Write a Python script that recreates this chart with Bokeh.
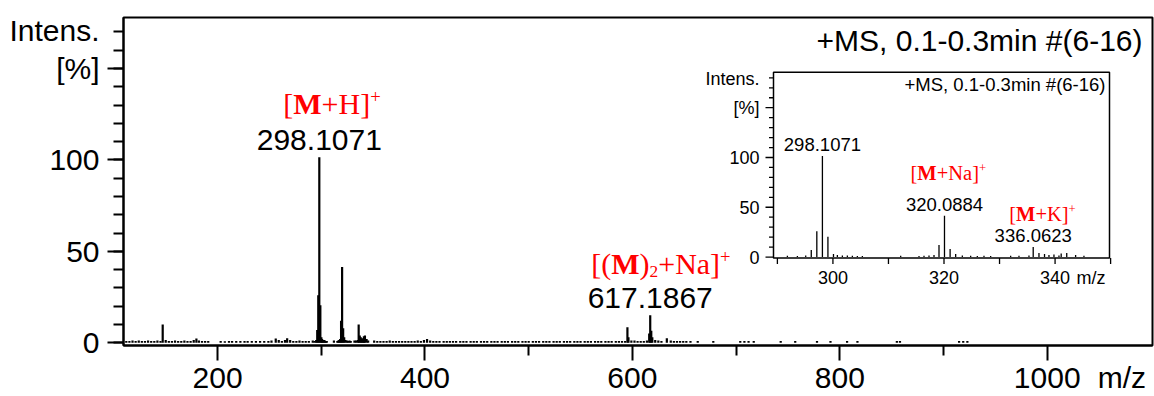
from bokeh.plotting import figure
from bokeh.models import Range1d, FixedTicker, LinearAxis, ColumnDataSource
from bokeh.core.properties import value
from bokeh.embed import file_html
from bokeh.resources import INLINE

# ---------------- data ----------------
peak_mz = [147.1, 179.6, 256.1, 267.1, 296.1, 297.1, 298.1071, 299.1, 300.1,
           319.1, 320.0884, 321.1, 322.1, 336.0623, 337.1, 338.1, 341.1, 342.1,
           595.2, 596.2, 616.2, 617.1867, 618.2, 619.2, 633.2]
peak_int = [10.0, 2.3, 2.3, 2.4, 7.0, 26.0, 101.5, 20.5, 3.0,
            12.0, 41.5, 8.0, 3.0, 10.0, 4.0, 3.0, 3.5, 4.0,
            8.5, 3.0, 5.0, 15.0, 6.5, 3.0, 2.5]

noise_mz = [112, 115, 118, 121, 124, 127, 130, 133, 136, 139, 142, 145, 150, 153, 156, 159,
            162, 165, 168, 171, 174, 177, 182, 185, 188, 191, 203, 207, 211, 214, 218, 222,
            226, 229, 233, 237, 241, 245, 249, 252, 259, 262, 265, 270, 273, 276, 279, 282,
            285, 288,
            291.8, 293.6, 295.1, 300.8, 301.7, 302.6, 303.5, 304.4, 305.3, 312.2, 315.5,
            316.4, 317.3, 318.2, 323.3, 324.8, 326.0, 327.2, 328.4, 332.0, 333.5, 335.3,
            338.9, 339.8, 340.7, 343.7, 345.2,
            351, 354, 357, 360, 363, 366, 369, 372, 375, 378, 381, 384, 387, 390, 393, 396,
            399, 402, 405, 408, 411, 414, 418, 421, 424, 427, 430, 434, 437, 440, 444, 447,
            450, 454, 457, 460, 464, 467, 470, 474, 477, 480, 484, 487, 490, 494, 497, 500,
            504, 507, 510, 514, 517, 520, 524, 527, 530, 534, 537, 540, 544, 547, 550, 554,
            557, 560, 564, 567, 570, 574, 577, 580, 584, 587, 590, 593, 599, 602, 605, 608,
            611, 614, 622, 625, 628, 637, 640, 643, 646, 649, 652, 656,
            663, 678, 704, 708, 712, 717, 743, 757, 778, 791, 807, 817, 855, 858, 915, 919, 923]
noise_int = [1.0, 1.0, 1.2, 1.0, 1.2, 1.0, 1.0, 1.2, 1.0, 1.0, 1.2, 1.0, 1.5, 1.0, 1.0, 1.2,
             1.0, 1.0, 1.2, 1.0, 1.0, 1.5, 1.2, 1.0, 1.0, 1.0, 1.0, 0.8, 1.0, 1.0, 1.0, 1.0,
             1.0, 1.0, 1.0, 1.0, 1.0, 1.0, 1.0, 1.2, 1.5, 1.0, 1.5, 1.5, 1.0, 1.0, 1.2, 1.0,
             1.0, 1.0,
             1.2, 1.0, 1.5, 2.0, 1.5, 1.5, 1.2, 1.0, 1.0, 1.2, 1.0,
             1.2, 1.5, 2.0, 1.5, 1.2, 1.0, 1.2, 1.0, 1.2, 1.2, 1.5,
             2.0, 2.5, 1.5, 2.0, 1.2,
             1.2, 1.0, 1.0, 1.0, 1.0, 1.2, 1.0, 1.0, 1.0, 1.0, 1.0, 1.0, 1.0, 1.0, 1.2, 1.0,
             1.5, 2.0, 1.2, 1.0, 1.0, 1.0, 1.0, 1.0, 1.0, 1.0, 1.0, 1.0, 1.0, 1.0, 1.0, 1.0,
             1.0, 1.0, 1.0, 1.0, 1.0, 1.0, 1.0, 1.0, 1.0, 1.0, 1.0, 1.0, 1.0, 1.0, 1.0, 1.0,
             1.0, 1.0, 1.0, 1.0, 1.0, 1.0, 1.0, 1.0, 1.0, 1.0, 1.0, 1.0, 1.0, 1.0, 1.0, 1.0,
             1.0, 1.0, 1.0, 1.0, 1.0, 1.0, 1.0, 1.0, 1.0, 1.0, 1.0, 1.0, 1.2, 1.2, 1.0, 1.0,
             1.0, 1.2, 1.5, 1.2, 1.0, 1.2, 1.0, 1.0, 1.0, 1.0, 1.0, 1.0,
             1.0, 1.0, 1.0, 1.0, 1.0, 1.0, 1.0, 1.0, 1.0, 1.0, 1.0, 1.0, 1.0, 1.0, 1.0, 1.0, 1.0]

scan_title = "+MS, 0.1-0.3min #(6-16)"
y_label_top = "Intens."
y_label_unit = "[%]"
x_unit = "m/z"

main_x_ticks = [200, 400, 600, 800, 1000]
main_x_minor = [300, 500, 700, 900]
main_x_unit_pos = 1072
main_y_ticks = [0, 50, 100, 150]
main_y_minor = [0, 10, 20, 30, 40, 50, 60, 70, 80, 90, 100, 110, 120, 130, 140, 150, 160, 170]
main_y_top_pos = 171
inset_x_ticks = [290, 300, 310, 320, 330, 340, 350]
inset_x_labels = [300, 320, 340]
inset_y_ticks = [0, 50, 100]
inset_y_minor = [0, 10, 20, 30, 40, 50, 60, 70, 80, 90, 100, 110, 120, 130, 140, 150, 160, 170, 180]
inset_y_label_pos = [150, 179]

# ion labels: (text, style) style 0 normal, 1 bold, 2 superscript, 3 subscript
ion_MH = [("[", 0), ("M", 1), ("+H]", 0), ("+", 2)]
ion_2MNa = [("[(", 0), ("M", 1), (")", 0), ("2", 3), ("+Na]", 0), ("+", 2)]
ion_MNa = [("[", 0), ("M", 1), ("+Na]", 0), ("+", 2)]
ion_MK = [("[", 0), ("M", 1), ("+K]", 0), ("+", 2)]

main_numbers = [298.1071, 617.1867]
main_ions = [(298.1071, ion_MH, -36, -44), (617.1867, ion_2MNa, -59, -42)]
inset_numbers = [298.1071, 320.0884, 336.0623]
inset_ions = [(320.0884, ion_MNa, -34, -36), (336.0623, ion_MK, -24, -26)]

# ---------------- geometry ----------------
W, H = 1154, 396
FL, FR, FT, FB = 123, 1152, 17, 347
XR = (109.3, 1101.5)
YR = (-1.5, 177.9)
IL, IR, IT, IB = 773, 1109, 72, 259
IXR = (289.3, 349.8)
IYR = (-1.0, 185.7)

isx = (IR - IL) / (IXR[1] - IXR[0])
isy = (IB - IT) / (IYR[1] - IYR[0])
ix_range = Range1d(IXR[0] - (IL - FL) / isx, IXR[1] + (FR - IR) / isx)
iy_range = Range1d(IYR[0] - (FB - IB) / isy, IYR[1] + (IT - FT) / isy)

SANS = "Liberation Sans"
SERIF = "Liberation Serif"
MID_S = 0.3465   # baseline -> middle, sans
MID_T = 0.3375   # baseline -> middle, serif

p = figure(width=W, height=H, x_range=Range1d(*XR), y_range=Range1d(*YR),
           output_backend="svg", toolbar_location=None, title=None,
           min_border_left=FL, min_border_right=W - FR, min_border_top=FT,
           min_border_bottom=H - FB)
p.extra_x_ranges = {"ix": ix_range}
p.extra_y_ranges = {"iy": iy_range}
p.xgrid.visible = False
p.ygrid.visible = False
p.outline_line_color = "black"
p.outline_line_width = 2
p.background_fill_color = "white"
p.border_fill_color = "white"

# tick-mark axes (next to the frame, no labels)
xa = p.xaxis[0]
xa.ticker = FixedTicker(ticks=main_x_ticks, minor_ticks=main_x_minor)
xa.major_tick_out, xa.major_tick_in, xa.minor_tick_out, xa.minor_tick_in = 15, 0, 10, 0
ya = p.yaxis[0]
ya.ticker = FixedTicker(ticks=main_y_ticks, minor_ticks=main_y_minor)
ya.major_tick_out, ya.major_tick_in, ya.minor_tick_out, ya.minor_tick_in = 16, 0, 10, 0
for a, ticks in ((xa, main_x_ticks), (ya, main_y_ticks)):
    a.major_tick_line_width = 2
    a.minor_tick_line_width = 2
    a.axis_line_width = 2
    a.axis_line_color = "black"
    a.major_tick_line_color = "black"
    a.minor_tick_line_color = "black"
    a.major_label_overrides = {t: "" for t in ticks}
    a.major_label_text_font_size = "0px"
    a.major_label_standoff = 0

# label axes (outside, no tick marks)
def label_axis(ticks, overrides, standoff):
    ax = LinearAxis(ticker=FixedTicker(ticks=ticks, minor_ticks=[]),
                    major_label_overrides=overrides, major_label_standoff=standoff,
                    major_tick_out=0, major_tick_in=0, minor_tick_out=0, minor_tick_in=0,
                    axis_line_color=None, major_tick_line_color=None, minor_tick_line_color=None,
                    major_label_text_font=SANS, major_label_text_font_size="30px",
                    major_label_text_color="black")
    return ax

p.add_layout(label_axis(main_x_ticks + [main_x_unit_pos], {main_x_unit_pos: x_unit}, 0), "below")
p.add_layout(label_axis(main_y_ticks + [main_y_top_pos],
                        {150: y_label_unit, main_y_top_pos: y_label_top}, 8), "left")

# ---------------- main spectrum ----------------
all_mz = peak_mz + noise_mz
all_int = peak_int + noise_int
src = ColumnDataSource(dict(x=all_mz, y0=[0] * len(all_mz), y1=all_int))
p.segment(x0="x", y0="y0", x1="x", y1="y1", source=src, line_color="black", line_width=2.2)

inten = dict(zip(peak_mz, peak_int))

def sans_text(xs, ys, texts, size, align, base_dy, dx=0, **rng):
    p.text(x=xs, y=ys, text=texts, x_offset=dx, y_offset=base_dy - MID_S * size,
           text_font=value(SANS), text_font_size="%.1fpx" % size, text_align=align,
           text_baseline="middle", text_color="black", **rng)

sans_text([XR[1]], [YR[1]], [scan_title], 30, "right", 33, dx=-10)
sans_text(main_numbers, [inten[m] for m in main_numbers], ["%.4f" % m for m in main_numbers],
          30, "center", -7)

TR = {'[': 0.333, ']': 0.333, '(': 0.333, ')': 0.333, '+': 0.564, 'H': 0.722,
      'N': 0.722, 'a': 0.444, 'K': 0.722, '2': 0.5}
TB = {'M': 0.944}

def rich(m, pieces, size, dx, dy, **rng):
    xo = dx
    for txt, st in pieces:
        sc, shift, bold = 1.0, 0.0, st == 1
        if st == 2:
            sc, shift = 0.62, 0.36
        elif st == 3:
            sc, shift = 0.58, -0.15
        fs = size * sc
        p.text(x=[m], y=[inten[m]], text=[txt], x_offset=xo,
               y_offset=dy - shift * size - MID_T * fs,
               text_font=value(SERIF), text_font_style="bold" if bold else "normal",
               text_font_size="%.1fpx" % fs, text_align="left", text_baseline="middle",
               text_color="#ff0000", **rng)
        tab = TB if bold else TR
        xo += sum(tab.get(c, 0.5) for c in txt) * fs

for m, pcs, dx, dy in main_ions:
    rich(m, pcs, 30, dx, dy)

# ---------------- inset ----------------
R = dict(x_range_name="ix", y_range_name="iy")
p.quad(left=[IXR[0]], right=[IXR[1]], bottom=[IYR[0]], top=[IYR[1]], fill_color="white",
       line_color="black", line_width=1.5, **R)

ins = [(m, h) for m, h in zip(all_mz, all_int) if IXR[0] < m < IXR[1]]
isrc = ColumnDataSource(dict(x=[a for a, _ in ins], y0=[0] * len(ins), y1=[b for _, b in ins]))
p.segment(x0="x", y0="y0", x1="x", y1="y1", source=isrc, line_color="black", line_width=1.3, **R)

ylen_major, ylen_minor, xlen = 8 / isx, 4.5 / isx, 6 / isy
yt = inset_y_minor
p.segment(x0=[IXR[0]] * len(yt),
          x1=[IXR[0] - (ylen_major if v % 50 == 0 else ylen_minor) for v in yt],
          y0=yt, y1=yt, line_color="black", line_width=1.3, **R)
p.segment(x0=inset_x_ticks, x1=inset_x_ticks, y0=[IYR[0]] * len(inset_x_ticks),
          y1=[IYR[0] - xlen] * len(inset_x_ticks), line_color="black", line_width=1.3, **R)

lab_y = [str(v) for v in inset_y_ticks] + [y_label_unit, y_label_top]
pos_y = inset_y_ticks + inset_y_label_pos
p.text(x=[IXR[0]] * len(lab_y), y=pos_y, text=lab_y, x_offset=-14, text_font=value(SANS),
       text_font_size="18px", text_align="right", text_baseline="middle", text_color="black", **R)
sans_text(inset_x_labels, [IYR[0]] * len(inset_x_labels), [str(v) for v in inset_x_labels],
          18, "center", 26, **R)
sans_text([IXR[1]], [IYR[0]], [x_unit], 18, "right", 26, dx=-4, **R)
sans_text([IXR[1]], [IYR[1]], [scan_title], 18.5, "right", 19, dx=-4, **R)
sans_text(inset_numbers, [inten[m] for m in inset_numbers], ["%.4f" % m for m in inset_numbers],
          18.5, "center", -5, **R)

for m, pcs, dx, dy in inset_ions:
    rich(m, pcs, 20.5, dx, dy, **R)

open("out.html", "w").write(file_html(p, INLINE))
